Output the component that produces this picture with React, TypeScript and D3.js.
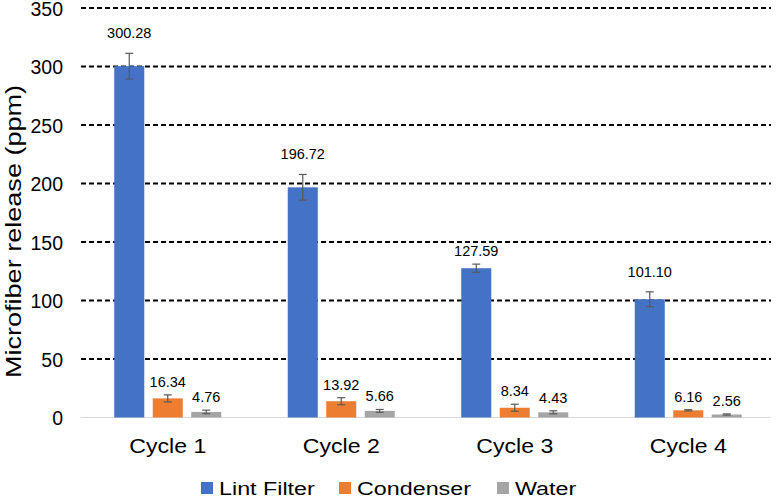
import React, { useEffect, useRef } from 'react';
import * as d3 from 'd3';

const categories = ['Cycle 1', 'Cycle 2', 'Cycle 3', 'Cycle 4'];
const seriesNames = ['Lint Filter', 'Condenser', 'Water'];
const lintFilter = [300.28, 196.72, 127.59, 101.1];
const condenser = [16.34, 13.92, 8.34, 6.16];
const water = [4.76, 5.66, 4.43, 2.56];
const lintErr = [11, 11, 3.5, 6.3];
const condenserErr = [3, 3, 3, 0.5];
const waterErr = [1.5, 1.2, 1.3, 0.5];
const yTicks = [0, 50, 100, 150, 200, 250, 300, 350];
const colors = ['#4472C4', '#ED7D31', '#A5A5A5'];

const FONT = '"Liberation Sans", Arial, sans-serif';

const App: React.FC = () => {
  const svgRef = useRef<SVGSVGElement>(null);

  useEffect(() => {
    document.body.style.margin = '0';
    if (!svgRef.current) return;
    const width = 776;
    const height = 497;
    const left = 81;
    const right = 775;
    const top = 8;
    const bottom = 417.5;

    const svg = d3.select(svgRef.current)
      .attr('width', width)
      .attr('height', height)
      .html('');

    const values = [lintFilter, condenser, water];
    const errs = [lintErr, condenserErr, waterErr];

    const x0 = d3.scaleBand<string>().domain(categories).range([left, right]).padding(0);
    const groupW = 107;
    const x1 = d3.scaleBand<string>().domain(seriesNames).range([0, groupW]).paddingInner(0.22);
    const y = d3.scaleLinear().domain([0, 350]).range([bottom, top]);

    // gridlines (dashed)
    svg.append('g')
      .selectAll('line')
      .data(yTicks.filter(t => t > 0))
      .enter()
      .append('line')
      .attr('x1', left)
      .attr('x2', right - 4)
      .attr('y1', d => y(d))
      .attr('y2', d => y(d))
      .attr('stroke', '#000')
      .attr('stroke-width', 2)
      .attr('stroke-dasharray', '5,3');

    // baseline
    svg.append('line')
      .attr('x1', left).attr('x2', right - 4)
      .attr('y1', y(0)).attr('y2', y(0))
      .attr('stroke', '#D9D9D9').attr('stroke-width', 1);

    // y tick labels
    svg.append('g')
      .selectAll('text')
      .data(yTicks)
      .enter()
      .append('text')
      .attr('x', 63)
      .attr('y', d => y(d) + 7.5)
      .attr('text-anchor', 'end')
      .attr('font-family', FONT)
      .attr('font-size', 19.5)
      .attr('fill', '#000')
      .text(d => d);

    // axis title (text in the source is a bit wide, so stretch it)
    svg.append('text')
      .attr('transform', `translate(21, 231.5) rotate(-90) scale(1.23, 1)`)
      .attr('text-anchor', 'middle')
      .attr('font-family', FONT)
      .attr('font-size', 22)
      .attr('fill', '#000')
      .text('Microfiber release (ppm)');

    // bars
    categories.forEach((cat, ci) => {
      const gx = (x0(cat) as number) + x0.bandwidth() / 2 - groupW / 2;
      seriesNames.forEach((s, si) => {
        const v = values[si][ci];
        const e = errs[si][ci];
        const bx = gx + (x1(s) as number);
        const bw = x1.bandwidth();
        const cx = bx + bw / 2;
        svg.append('rect')
          .attr('x', bx)
          .attr('y', y(v))
          .attr('width', bw)
          .attr('height', y(0) - y(v))
          .attr('fill', colors[si]);

        // error bar
        const eg = svg.append('g').attr('stroke', '#595959').attr('stroke-width', 1.2);
        eg.append('line').attr('x1', cx).attr('x2', cx).attr('y1', y(v + e)).attr('y2', y(v - e));
        eg.append('line').attr('x1', cx - 4).attr('x2', cx + 4).attr('y1', y(v + e)).attr('y2', y(v + e));
        eg.append('line').attr('x1', cx - 4).attr('x2', cx + 4).attr('y1', y(v - e)).attr('y2', y(v - e));

        svg.append('text')
          .attr('x', cx)
          .attr('y', y(v + e) - (si === 0 && ci !== 2 ? 15 : 8))
          .attr('text-anchor', 'middle')
          .attr('font-family', FONT)
          .attr('font-size', 14.5)
          .attr('fill', '#000')
          .text(v.toFixed(2));
      });

      const cxCat = (x0(cat) as number) + x0.bandwidth() / 2;
      svg.append('text')
        .attr('transform', `translate(${cxCat}, 452.5) scale(1.155, 1)`)
        .attr('text-anchor', 'middle')
        .attr('font-family', FONT)
        .attr('font-size', 20)
        .attr('fill', '#000')
        .text(cat);
    });

    // legend
    const legendX = [201, 339, 497];
    const leg = svg.append('g');
    seriesNames.forEach((s, i) => {
      leg.append('rect')
        .attr('x', legendX[i]).attr('y', 482)
        .attr('width', 12).attr('height', 12)
        .attr('fill', colors[i]);
      leg.append('text')
        .attr('transform', `translate(${legendX[i] + 18}, 495) scale(1.26, 1)`)
        .attr('font-family', FONT)
        .attr('font-size', 18.5)
        .attr('fill', '#000')
        .text(s);
    });
  }, []);

  return <svg ref={svgRef} style={{ display: 'block' }}></svg>;
};

export default App;
